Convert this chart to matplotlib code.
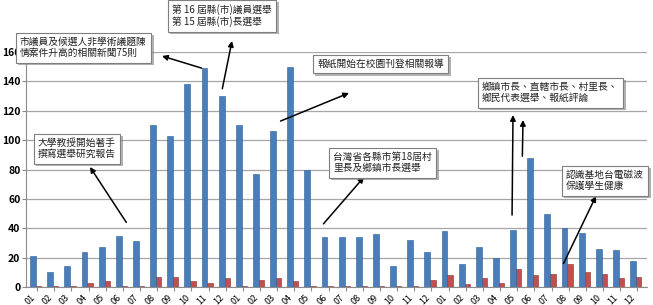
import numpy as np
import matplotlib
matplotlib.use('Agg')
import matplotlib.pyplot as plt
import matplotlib.patheffects as pe

plt.rcParams['font.family'] = ['Noto Sans CJK TC', 'DejaVu Sans']

# three years of monthly counts
months = ['01', '02', '03', '04', '05', '06', '07', '08', '09', '10', '11', '12']
labels = months * 3

blue = [21, 10, 14, 24, 27, 35, 31, 110, 103, 138, 149, 130,
        110, 77, 106, 150, 80, 34, 34, 34, 36, 14, 32, 24,
        38, 16, 27, 20, 39, 88, 50, 40, 37, 26, 25, 18]
red = [1, 1, 1, 3, 4, 1, 1, 7, 7, 4, 3, 6,
       1, 5, 6, 4, 1, 1, 1, 1, 1, 1, 1, 5,
       8, 2, 6, 3, 12, 8, 9, 16, 10, 9, 6, 7]

W, H = 653, 305
fig = plt.figure(figsize=(W / 100, H / 100), dpi=100)
ax = fig.add_axes([26 / W, 18 / H, 621 / W, 235 / H])

x = np.arange(len(blue))
ax.bar(x + 0.16, red, width=0.36, color='#c0504d', edgecolor='#8c2d2a', linewidth=0.4, zorder=2)
ax.bar(x - 0.14, blue, width=0.34, color='#4a7ebb', edgecolor='#2c5d97', linewidth=0.4, zorder=3)

ax.set_xlim(-0.55, 35.67)
ax.set_ylim(0, 160)
ax.set_yticks(range(0, 161, 20))
ax.yaxis.grid(True, color='#a6a6a6', linewidth=0.9, zorder=0)
ax.set_axisbelow(True)
for s in ['top', 'right']:
    ax.spines[s].set_visible(False)
ax.spines['left'].set_color('#8c8c8c')
ax.spines['bottom'].set_color('#8c8c8c')
ax.tick_params(axis='y', length=3, color='#8c8c8c', labelsize=7.5, pad=1)
ax.tick_params(axis='x', length=3, color='#8c8c8c', labelsize=6.5, pad=1)
for t in ax.get_yticklabels():
    t.set_fontweight('bold')
ax.set_xticks(x + 0.1)
ax.set_xticklabels(labels, rotation=45, ha='right', va='top')

shadow = [pe.SimplePatchShadow(offset=(2, -2), shadow_rgbFace='#808080', alpha=0.6), pe.Normal()]


def box(px, py, text):
    t = fig.text(px / W, 1 - py / H, text, ha='left', va='top', fontsize=7, linespacing=1.15,
                 color='#222222',
                 bbox=dict(boxstyle='square,pad=0.45', facecolor='white', edgecolor='#7f7f7f', linewidth=0.8))
    t.get_bbox_patch().set_path_effects(shadow)


def arrow(i, v, hx, hy):
    ax.annotate('', xy=(hx, H - hy), xycoords='figure pixels', xytext=(i, v), textcoords='data',
                arrowprops=dict(arrowstyle='-|>', color='black', lw=1.1, mutation_scale=8,
                                shrinkA=0, shrinkB=0),
                annotation_clip=False)


box(20, 37, '市議員及候選人非學術議題陳\n情案件升高的相關新聞75則')
box(172, 4, '第 16 屆縣(市)議員選舉\n第 15 屆縣(市)長選舉')
box(317, 59, '報紙開始在校園刊登相關報導')
box(482, 82, '鄉鎮市長、直轄市長、村里長、\n鄉民代表選舉、報紙評論')
box(333, 152, '台灣省各縣市第18屆村\n里長及鄉鎮市長選舉')
box(38, 138, '大學教授開始著手\n撰寫選舉研究報告')
box(566, 170, '認識基地台電磁波\n保護學生健康')

arrow(9.7, 149, 162, 56)
arrow(10.9, 135, 232, 41)
arrow(14.3, 113, 349, 93)
arrow(27.8, 49, 513, 115)
arrow(28.4, 89, 523, 120)
arrow(16.8, 43, 364, 177)
arrow(5.3, 44, 90, 167)
arrow(30.8, 16, 596, 196)

fig.savefig('out.png', dpi=100)
